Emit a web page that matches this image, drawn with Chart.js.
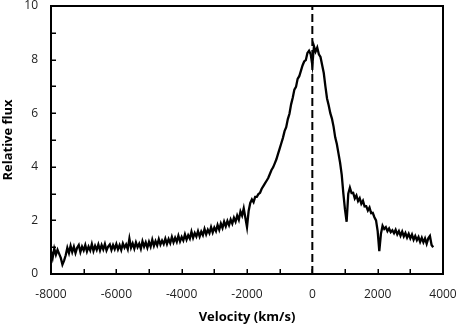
<!DOCTYPE html>
<html>
<head>
<meta charset="utf-8">
<script src="https://cdn.jsdelivr.net/npm/chart.js@4/dist/chart.umd.min.js"></script>
<style>
  html, body { margin: 0; padding: 0; background: #fff; }
  #wrap { width: 458px; height: 325px; position: relative; }
  #wrap canvas { position: absolute; left: 0; top: 0; }
  .frame { position: absolute; box-sizing: border-box; border: 2px solid #000; pointer-events: none; }
  .tick { position: absolute; background: #000; pointer-events: none; }
</style>
</head>
<body>
<div id="wrap"><canvas id="chart" width="458" height="325"></canvas></div>
<script>
// velocity grid (km/s), every 50 km/s
const velocity = [
  -8000, -7950, -7900, -7850, -7800, -7750, -7700, -7650, -7600, -7550,
  -7500, -7450, -7400, -7350, -7300, -7250, -7200, -7150, -7100, -7050,
  -7000, -6950, -6900, -6850, -6800, -6750, -6700, -6650, -6600, -6550,
  -6500, -6450, -6400, -6350, -6300, -6250, -6200, -6150, -6100, -6050,
  -6000, -5950, -5900, -5850, -5800, -5750, -5700, -5650, -5600, -5550,
  -5500, -5450, -5400, -5350, -5300, -5250, -5200, -5150, -5100, -5050,
  -5000, -4950, -4900, -4850, -4800, -4750, -4700, -4650, -4600, -4550,
  -4500, -4450, -4400, -4350, -4300, -4250, -4200, -4150, -4100, -4050,
  -4000, -3950, -3900, -3850, -3800, -3750, -3700, -3650, -3600, -3550,
  -3500, -3450, -3400, -3350, -3300, -3250, -3200, -3150, -3100, -3050,
  -3000, -2950, -2900, -2850, -2800, -2750, -2700, -2650, -2600, -2550,
  -2500, -2450, -2400, -2350, -2300, -2250, -2200, -2150, -2100, -2050,
  -2000, -1950, -1900, -1850, -1800, -1750, -1700, -1650, -1600, -1550,
  -1500, -1450, -1400, -1350, -1300, -1250, -1200, -1150, -1100, -1050,
  -1000, -950, -900, -850, -800, -750, -700, -650, -600, -550,
  -500, -450, -400, -350, -300, -250, -200, -150, -100, -50,
  0, 50, 100, 150, 200, 250, 300, 350, 400, 450,
  500, 550, 600, 650, 700, 750, 800, 850, 900, 950,
  1000, 1050, 1100, 1150, 1200, 1250, 1300, 1350, 1400, 1450,
  1500, 1550, 1600, 1650, 1700, 1750, 1800, 1850, 1900, 1950,
  2000, 2050, 2100, 2150, 2200, 2250, 2300, 2350, 2400, 2450,
  2500, 2550, 2600, 2650, 2700, 2750, 2800, 2850, 2900, 2950,
  3000, 3050, 3100, 3150, 3200, 3250, 3300, 3350, 3400, 3450,
  3500, 3550, 3600, 3650, 3700
];

// relative flux at each velocity
const flux = [
  0.85, 0.6, 0.95, 0.72, 0.9, 0.75, 0.6, 0.35, 0.5, 0.7,
  0.98, 0.78, 1.05, 0.82, 1.02, 0.78, 0.98, 1.08, 0.82, 1.02,
  0.88, 1.08, 0.84, 1.02, 0.88, 1.12, 0.86, 1.05, 0.9, 1.1,
  0.88, 1.08, 0.92, 1.12, 0.88, 1.02, 1.1, 0.9, 1.08, 0.93,
  1.12, 0.92, 1.08, 0.9, 1.14, 0.98, 1.1, 0.93, 1.32, 0.98,
  1.14, 0.95, 1.18, 1.0, 1.13, 0.94, 1.22, 1.02, 1.18, 0.98,
  1.2, 1.02, 1.28, 1.05, 1.23, 1.07, 1.3, 1.1, 1.25, 1.12,
  1.32, 1.12, 1.3, 1.15, 1.38, 1.18, 1.35, 1.2, 1.43, 1.22,
  1.38, 1.25, 1.48, 1.28, 1.45, 1.32, 1.58, 1.35, 1.53, 1.4,
  1.6, 1.4, 1.58, 1.45, 1.68, 1.48, 1.65, 1.52, 1.75, 1.55,
  1.73, 1.6, 1.83, 1.65, 1.88, 1.72, 1.95, 1.78, 1.98, 1.82,
  2.03, 1.88, 2.1, 1.95, 2.18, 2.02, 2.33, 2.18, 2.45, 2.1,
  1.75, 2.35, 2.65, 2.78, 2.68, 2.88, 2.88, 2.98, 3.03, 3.18,
  3.28, 3.38, 3.48, 3.58, 3.73, 3.88, 3.98, 4.13, 4.28, 4.48,
  4.68, 4.88, 5.08, 5.33, 5.48, 5.78, 5.98, 6.33, 6.58, 6.88,
  6.98, 7.28, 7.38, 7.58, 7.78, 7.93, 7.98, 8.25, 8.33, 8.2,
  7.8, 8.5, 8.3, 8.45, 8.2, 8.1, 7.8, 7.5, 7.0, 6.55,
  6.3, 6.0, 5.8, 5.5, 5.1, 4.85, 4.5, 4.15, 3.7, 3.0,
  2.4, 1.95, 3.0, 3.22, 3.02, 3.03, 2.82, 2.93, 2.72, 2.83,
  2.62, 2.73, 2.52, 2.53, 2.37, 2.48, 2.27, 2.28, 2.12, 2.0,
  1.6, 0.85, 1.5, 1.8, 1.68, 1.75, 1.6, 1.7, 1.56, 1.63,
  1.52, 1.65, 1.48, 1.6, 1.43, 1.58, 1.4, 1.53, 1.36, 1.5,
  1.33, 1.47, 1.28, 1.42, 1.26, 1.38, 1.2, 1.35, 1.18, 1.33,
  1.13, 1.33, 1.42, 1.08, 1.0
];

// dashed marker at zero velocity
const markerX = [0, 0];
const markerY = [0, 10];

const xMin = -8000, xMax = 4000, xStep = 1000;
const yMin = 0, yMax = 10, yStep = 1;

const FONT = "'Open Sans', 'Noto Sans', sans-serif";

// frame and inward ticks as filled rects on the canvas (strokes did not show)
const framePlugin = {
  id: "plotFrame",
  afterDraw(chart) {
    const c = chart.ctx;
    const a = chart.chartArea;
    const w = a.right - a.left, h = a.bottom - a.top;
    c.save();
    c.fillStyle = "#000";
    c.fillRect(a.left - 1, a.top - 1, w + 2, 2);
    c.fillRect(a.left - 1, a.bottom - 1, w + 2, 2);
    c.fillRect(a.left - 1, a.top - 1, 2, h + 2);
    c.fillRect(a.right - 1, a.top - 1, 2, h + 2);
    for (let v = xMin; v <= xMax; v += xStep) {
      const px = Math.round(chart.scales.x.getPixelForValue(v));
      c.fillRect(px - 0.5, a.bottom - 5, 1.5, 5);
    }
    for (let v = yMin; v <= yMax; v += yStep) {
      const py = Math.round(chart.scales.y.getPixelForValue(v));
      c.fillRect(a.left, py - 0.5, 5, 1.5);
    }
    c.restore();
  }
};

const wrap = document.getElementById("wrap");
const ctx = document.getElementById("chart").getContext("2d");
const chart = new Chart(ctx, {
  type: "line",
  data: {
    datasets: [
      {
        data: velocity.map((v, i) => ({ x: v, y: flux[i] })),
        borderColor: "#000",
        borderWidth: 2.3,
        pointRadius: 0,
        tension: 0,
        order: 1
      },
      {
        data: markerX.map((v, i) => ({ x: v, y: markerY[i] })),
        borderColor: "#000",
        borderWidth: 2,
        borderDash: [8, 4],
        pointRadius: 0,
        order: 2
      }
    ]
  },
  options: {
    responsive: false,
    animation: false,
    layout: { padding: { top: 6, right: 15, left: 0, bottom: 0 } },
    plugins: { legend: { display: false }, tooltip: { enabled: false } },
    scales: {
      x: {
        type: "linear",
        position: "bottom",
        min: xMin,
        max: xMax,
        grid: { display: false, drawTicks: false },
        border: { display: false },
        ticks: {
          stepSize: xStep,
          autoSkip: false,
          maxRotation: 0,
          padding: 13,
          color: "#222",
          font: { family: FONT, size: 12 },
          callback: v => (v % 2000 === 0 ? String(v) : "")
        },
        title: {
          display: true,
          text: "Velocity (km/s)",
          color: "#000",
          font: { family: FONT, size: 13, weight: "bold" },
          padding: { top: 4, bottom: 0 }
        },
        afterFit: s => { s.height = 51; s.paddingLeft = 0; s.paddingRight = 0; }
      },
      y: {
        position: "left",
        min: yMin,
        max: yMax,
        grid: { display: false, drawTicks: false },
        border: { display: false },
        ticks: {
          stepSize: yStep,
          autoSkip: false,
          padding: 13,
          color: "#222",
          font: { family: FONT, size: 12 },
          callback: v => (v % 2 === 0 ? String(v) : "")
        },
        title: {
          display: true,
          text: "Relative flux",
          color: "#000",
          font: { family: FONT, size: 13, weight: "bold" },
          padding: { top: 0, bottom: 4 }
        },
        afterFit: s => { s.width = 51; s.paddingTop = 0; s.paddingBottom = 0; }
      }
    }
  },
  plugins: [framePlugin]
});

// same frame and ticks again as page elements, placed on the chart area
(function addOverlay() {
  const a = chart.chartArea;
  const frame = document.createElement("div");
  frame.className = "frame";
  frame.style.left = (a.left - 1) + "px";
  frame.style.top = (a.top - 1) + "px";
  frame.style.width = (a.right - a.left + 2) + "px";
  frame.style.height = (a.bottom - a.top + 2) + "px";
  wrap.appendChild(frame);
  for (let v = xMin; v <= xMax; v += xStep) {
    const t = document.createElement("div");
    t.className = "tick";
    t.style.left = (Math.round(chart.scales.x.getPixelForValue(v)) - 0.5) + "px";
    t.style.top = (a.bottom - 5) + "px";
    t.style.width = "1.5px";
    t.style.height = "5px";
    wrap.appendChild(t);
  }
  for (let v = yMin; v <= yMax; v += yStep) {
    const t = document.createElement("div");
    t.className = "tick";
    t.style.left = a.left + "px";
    t.style.top = (Math.round(chart.scales.y.getPixelForValue(v)) - 0.5) + "px";
    t.style.width = "5px";
    t.style.height = "1.5px";
    wrap.appendChild(t);
  }
})();
</script>
</body>
</html>
